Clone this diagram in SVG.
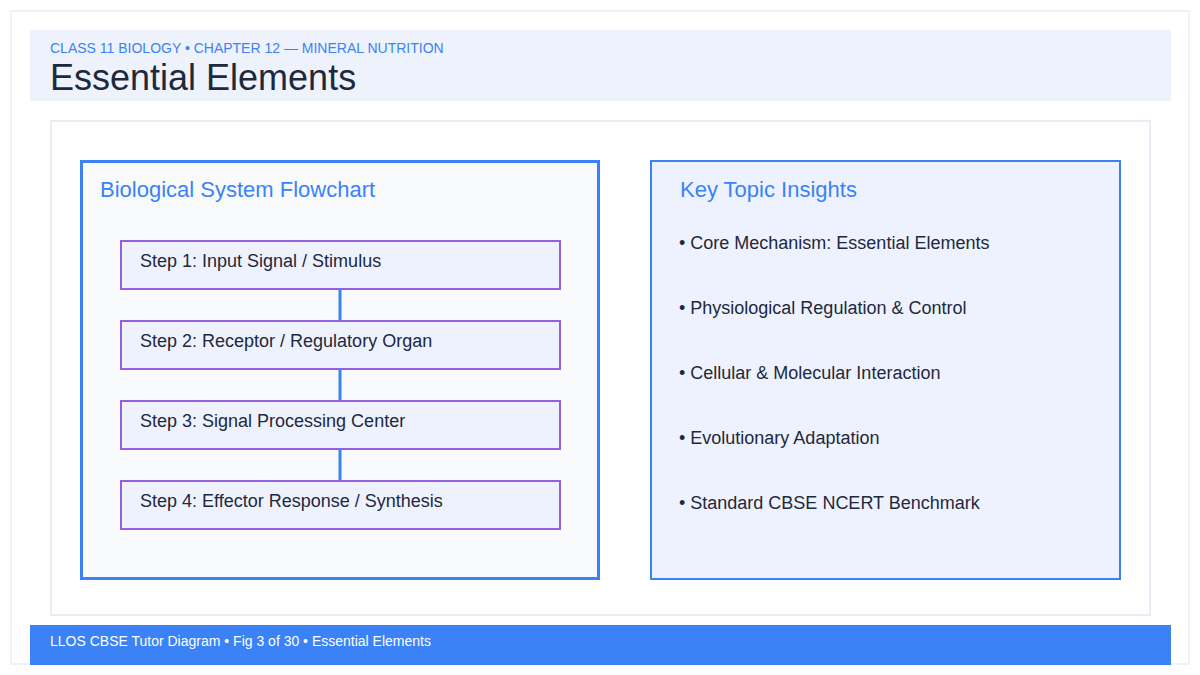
<svg xmlns="http://www.w3.org/2000/svg" width="1200" height="675" viewBox="0 0 1200 675">
<style>
text{font-family:"Liberation Sans",Arial,sans-serif}
.step rect{fill:#eef2fe;stroke:#9461dc;stroke-width:2}
.step text{font-size:18px;fill:#1e293b}
.ins{font-size:18px;fill:#1e293b}
.conn line{stroke:#3b82f6;stroke-width:3}
</style>
<rect width="1200" height="675" fill="#fff"/>
<rect x="11" y="11" width="1178" height="653" fill="none" stroke="#eef2fb" stroke-width="2"/>
<rect x="30" y="30" width="1141" height="71" fill="#eef2fd"/>
<text x="50" y="53" font-size="14" fill="#3b82f6">CLASS 11 BIOLOGY • CHAPTER 12 — MINERAL NUTRITION</text>
<text x="50" y="90" font-size="36" fill="#1e293b">Essential Elements</text>
<rect x="51" y="121" width="1099" height="494" fill="#fff" stroke="#e8edf5" stroke-width="2"/>
<g id="flowchart">
<rect x="81.5" y="161.5" width="517" height="417" fill="#f8fafc" stroke="#3b82f6" stroke-width="3"/>
<text x="100" y="197" font-size="22" fill="#3b82f6">Biological System Flowchart</text>
</g>
<g class="conn" id="connectors">
<line x1="340" y1="290" x2="340" y2="320"/>
<line x1="340" y1="370" x2="340" y2="400"/>
<line x1="340" y1="450" x2="340" y2="480"/>
</g>
<g class="step" id="step1"><rect x="121" y="241" width="439" height="48"/><text x="140" y="267">Step 1: Input Signal / Stimulus</text></g>
<g class="step" id="step2"><rect x="121" y="321" width="439" height="48"/><text x="140" y="347">Step 2: Receptor / Regulatory Organ</text></g>
<g class="step" id="step3"><rect x="121" y="401" width="439" height="48"/><text x="140" y="427">Step 3: Signal Processing Center</text></g>
<g class="step" id="step4"><rect x="121" y="481" width="439" height="48"/><text x="140" y="507">Step 4: Effector Response / Synthesis</text></g>
<g id="insights">
<rect x="651" y="161" width="469" height="418" fill="#eef2fe" stroke="#3b82f6" stroke-width="2"/>
<text x="680" y="197" font-size="22" fill="#3b82f6">Key Topic Insights</text>
<text class="ins" x="679" y="249">• Core Mechanism: Essential Elements</text>
<text class="ins" x="679" y="314">• Physiological Regulation &amp; Control</text>
<text class="ins" x="679" y="379">• Cellular &amp; Molecular Interaction</text>
<text class="ins" x="679" y="444">• Evolutionary Adaptation</text>
<text class="ins" x="679" y="509">• Standard CBSE NCERT Benchmark</text>
</g>
<rect x="30" y="625" width="1141" height="40" fill="#3b82f6"/>
<text x="50" y="646" font-size="14" fill="#fff">LLOS CBSE Tutor Diagram • Fig 3 of 30 • Essential Elements</text>
</svg>
